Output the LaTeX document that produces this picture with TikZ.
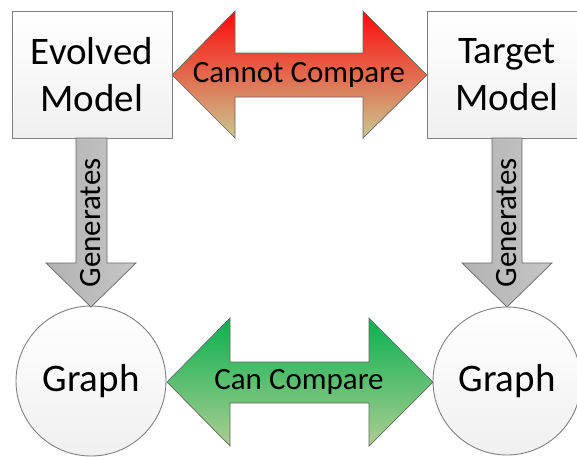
\documentclass[tikz,border=0pt]{standalone}
\usepackage{fontspec}
\setmainfont{Carlito}
\begin{document}
\begin{tikzpicture}[x=1pt,y=1pt]
\definecolor{boxline}{RGB}{128,128,128}
\definecolor{boxbot}{RGB}{240,240,240}
\definecolor{redtop}{RGB}{255,10,10}
\definecolor{redmid}{RGB}{228,100,70}
\definecolor{redbot}{RGB}{200,200,145}
\definecolor{grntop}{RGB}{10,176,80}
\definecolor{grnmid}{RGB}{90,190,110}
\definecolor{grnbot}{RGB}{172,206,145}
\definecolor{gtop}{RGB}{178,178,178}
\definecolor{gbot}{RGB}{198,198,198}
\tikzset{
  modelbox/.style={draw=boxline, line width=0.9pt, top color=white, bottom color=boxbot,
    minimum width=160pt, minimum height=127pt, align=center, inner sep=0pt,
    font=\fontsize{39}{47}\selectfont},
  graphnode/.style={circle, draw=boxline, line width=0.9pt, top color=white, bottom color=boxbot,
    inner sep=0pt, font=\fontsize{39}{47}\selectfont},
  redarrow/.style={draw=black!60, line width=0.7pt, top color=redtop, middle color=redmid, bottom color=redbot},
  grnarrow/.style={draw=black!60, line width=0.7pt, top color=grntop, middle color=grnmid, bottom color=grnbot},
  greyarrow/.style={draw=black!60, line width=0.7pt, left color=gtop, right color=gbot},
  arrowtext/.style={inner sep=0pt, font=\fontsize{31}{37}\selectfont}
}
\useasboundingbox (0,0) rectangle (577,-456);
% Boxes
\node[modelbox] (evolved) at (92,-74.5) {Evolved\\Model};
\node[modelbox] (target) at (507,-74.5) {Target\\Model};
% Circles
\node[graphnode, minimum size=150pt] (g1) at (91,-381) {Graph};
\node[graphnode, minimum size=148pt] (g2) at (507,-381) {Graph};
% Cannot Compare double arrow
\path[redarrow] (172,-75) -- (235,-11) -- (235,-53) -- (363,-53) -- (363,-11) -- (427,-75)
  -- (363,-138) -- (363,-97) -- (235,-97) -- (235,-138) -- cycle;
\node[arrowtext] (cannot) at (299,-75) {Cannot Compare};
% Can Compare double arrow
\path[grnarrow] (167,-382) -- (230,-318) -- (230,-362) -- (369,-362) -- (369,-318) -- (433,-382)
  -- (369,-446) -- (369,-403) -- (230,-403) -- (230,-446) -- cycle;
\node[arrowtext] (can) at (299,-382) {Can Compare};
% Generates arrows
\path[greyarrow] (76,-138) -- (107,-138) -- (107,-263) -- (136,-263) -- (91,-307) -- (46,-263) -- (76,-263) -- cycle;
\node[arrowtext, rotate=90] (gen1) at (91,-223) {Generates};
\path[greyarrow] (492,-138) -- (522,-138) -- (522,-263) -- (552,-263) -- (507,-307) -- (462,-263) -- (492,-263) -- cycle;
\node[arrowtext, rotate=90] (gen2) at (507,-223) {Generates};
\end{tikzpicture}
\end{document}
